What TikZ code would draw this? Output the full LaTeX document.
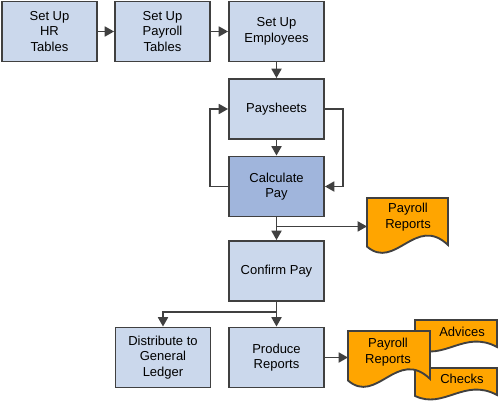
\documentclass[tikz,border=0pt]{standalone}
\usepackage{fontspec}
\setmainfont{Liberation Sans}
\usetikzlibrary{arrows.meta, calc}

\definecolor{boxblue}{HTML}{CBD8EC}
\definecolor{calcblue}{HTML}{A0B5DC}
\definecolor{docorange}{HTML}{FFA500}
\definecolor{edgegray}{HTML}{404040}

\tikzset{
    task/.style={draw=edgegray, line width=1.4pt, fill=boxblue, align=center,
        minimum width=71.25pt, minimum height=45pt, inner sep=0pt},
    flow/.style={draw=edgegray, line width=1.3pt, -{Triangle[length=7pt,width=7.5pt]}},
    doc/.style={draw=edgegray, line width=1.4pt, fill=docorange},
    doctext/.style={align=center, inner sep=0pt}
}

% document shape: name, left, top, width, height
\newcommand{\paydoc}[5]{%
    \filldraw[doc] (#2,#3) -- ({#2+#4},#3) -- ({#2+#4},{#3+0.87*#5})
        .. controls ({#2+0.6*#4},{#3+0.3*#5}) and ({#2+0.35*#4},{#3+1.35*#5}) .. (#2,{#3+0.9*#5}) -- cycle;
    \coordinate (#1) at (#2,{#3+#5/2});
}

\begin{document}
\begin{tikzpicture}[x=0.75pt, y=-0.75pt, font=\fontsize{9.75}{11.6}\selectfont]
    \useasboundingbox (0,0) rectangle (498,400);

    \node[task] (hr) at (49.5,31.5) {Set Up\\HR\\Tables};
    \node[task] (ptab) at (162.5,31.5) {Set Up\\Payroll\\Tables};
    \node[task] (emp) at (276.5,31.5) {Set Up\\Employees};
    \node[task] (sheets) at (276.5,109) {Paysheets};
    \node[task, fill=calcblue] (calc) at (276.5,186.5) {Calculate\\Pay};
    \node[task] (confirm) at (276.5,271) {Confirm Pay};
    \node[task] (gl) at (163,357.5) {Distribute to\\General\\Ledger};
    \node[task] (produce) at (276.5,357.5) {Produce\\Reports};

    % reports
    \paydoc{rep1-in}{367}{198}{81}{54}
    \node[doctext] (rep1) at (408,217) {Payroll\\Reports};
    \paydoc{adv-in}{415}{320}{82}{31}
    \node[doctext] (adv) at (462,332) {Advices};
    \paydoc{chk-in}{415}{368}{82}{31}
    \node[doctext] (chk) at (462,379) {Checks};
    \paydoc{rep2-in}{348}{331}{82}{55}
    \node[doctext] (rep2) at (388,352) {Payroll\\Reports};

    \draw[flow] (hr) -- (ptab);
    \draw[flow] (ptab) -- (emp);
    \draw[flow] (emp) -- (sheets);
    \draw[flow] (sheets) -- (calc);
    \draw[flow] (calc.west) -- ++(-18,0) |- (sheets.west);
    \draw[flow] (sheets.east) -- ++(18,0) |- (calc.east);
    \draw[flow] (calc) -- (confirm);

    \coordinate (split1) at ($(calc.south)+(0,9)$);
    \draw[flow] (split1) -- (split1 -| rep1-in);

    \draw[flow] (confirm) -- (produce);
    \draw[flow] (confirm.south) -- ++(0,10) -| (gl);
    \draw[flow] (produce.east) -- (produce.east -| rep2-in);
\end{tikzpicture}
\end{document}
